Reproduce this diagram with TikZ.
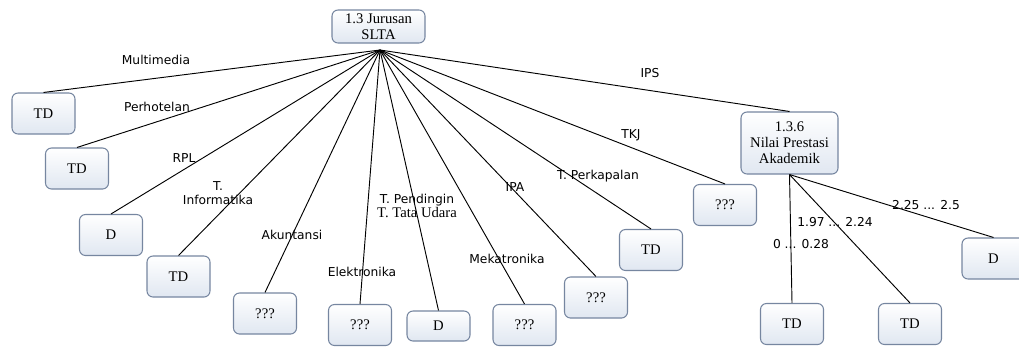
\documentclass[tikz,border=0pt]{standalone}
\usepackage{fontspec}
\setmainfont{Liberation Serif}
\newfontfamily\lblfont{DejaVu Sans}
\definecolor{boxline}{RGB}{118,134,160}
\definecolor{boxfill}{RGB}{224,231,241}
\begin{document}
\begin{tikzpicture}[x=0.75pt, y=-0.75pt,
  box/.style={draw=boxline, line width=0.8pt, rounded corners=4.5pt,
    top color=white, bottom color=boxfill, inner sep=0pt,
    minimum width=47.25pt, minimum height=30.75pt, align=center,
    font=\fontsize{11}{12}\selectfont},
  lbl/.style={font=\lblfont\fontsize{9.2}{11}\selectfont, align=center, inner sep=0pt},
  edge/.style={line width=0.7pt}]
  \useasboundingbox (0,0) rectangle (1019,347);

  % root and hub
  \node[box, minimum width=69.75pt, minimum height=24.75pt] (root) at (378.5,26.5) {1.3 Jurusan\\SLTA};
  \coordinate (hub) at (380,50);

  % leaves of the Jurusan node
  \node[box] (td1) at (43.5,113.5) {TD};
  \node[box] (td2) at (77,168.5) {TD};
  \node[box] (d3) at (111,235) {D};
  \node[box] (td4) at (178.5,276.5) {TD};
  \node[box] (q5) at (265,313.5) {???};
  \node[box] (q6) at (360,325) {???};
  \node[box, minimum height=22.5pt] (d7) at (438.5,326) {D};
  \node[box] (q8) at (524.5,325) {???};
  \node[box] (q9) at (596,297.5) {???};
  \node[box] (td10) at (651,250) {TD};
  \node[box] (q11) at (725,205) {???};
  \node[box, minimum width=72.75pt, minimum height=46.5pt] (nilai) at (789.5,143) {1.3.6\\Nilai Prestasi\\Akademik};

  % leaves of the Nilai node
  \node[box] (td12) at (792,324) {TD};
  \node[box] (td13) at (910,324) {TD};
  \node[box] (d14) at (993.5,258.5) {D};

  % connectors
  \foreach \leaf in {td1,td2,d3,td4,q5,q6,d7,q8,q9,td10,q11,nilai}
    \draw[edge] (hub) -- (\leaf.north);
  \foreach \leaf in {td12,td13,d14}
    \draw[edge] (nilai.south) -- (\leaf.north);

  % labels
  \node[lbl] (lmulti) at (156,60) {Multimedia};
  \node[lbl] (lhotel) at (157,107) {Perhotelan};
  \node[lbl] (lrpl) at (184,158) {RPL};
  \node[lbl] (linfo) at (218,193) {T.\\Informatika};
  \node[lbl] (lakun) at (292,235) {Akuntansi};
  \node[lbl] (lelek) at (362,272) {Elektronika};
  \node[lbl] (lpend) at (417,206) {T. Pendingin\\{\rmfamily\fontsize{11}{11}\selectfont T. Tata Udara}};
  \node[lbl] (lipa) at (515,187) {IPA};
  \node[lbl] (lmeka) at (507,259) {Mekatronika};
  \node[lbl] (lkapal) at (598,176) {T. Perkapalan};
  \node[lbl] (ltkj) at (631,135) {TKJ};
  \node[lbl] (lips) at (650,73) {IPS};
  \node[lbl] (lzero) at (801,244) {0 ... 0.28};
  \node[lbl] (lmid) at (835,222) {1.97 ... 2.24};
  \node[lbl] (lhigh) at (926,205) {2.25 ... 2.5};
\end{tikzpicture}
\end{document}
